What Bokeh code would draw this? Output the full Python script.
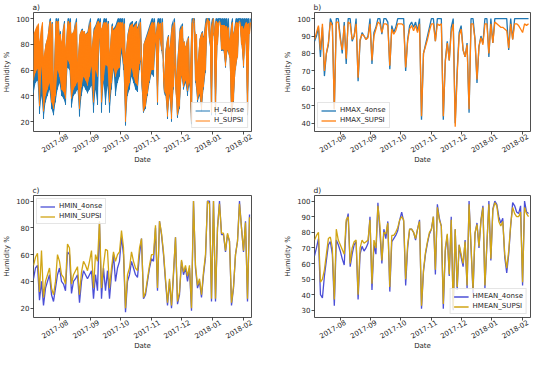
import numpy as np
import pandas as pd
from bokeh.plotting import figure
from bokeh.layouts import column, row
from bokeh.models import (Range1d, FixedTicker, Legend, LegendItem, DatetimeAxis)
from bokeh.embed import file_html
from bokeh.resources import INLINE

# ---------------- data (daily values, every second day from 2017-07-06) ----------------
dates = pd.date_range("2017-07-06", periods=109, freq="2D")
month_ticks = ["2017-08-01", "2017-09-01", "2017-10-01", "2017-11-01",
               "2017-12-01", "2018-01-01", "2018-02-01"]
month_labels = ["2017-08", "2017-09", "2017-10", "2017-11",
                "2017-12", "2018-01", "2018-02"]

HMAX_4onse = [87, 90, 95, 78, 95, 67, 80, 85, 100, 97,
              48, 100, 100, 90, 80, 98, 74, 100, 100, 87,
              90, 100, 64, 87, 92, 90, 88, 90, 100, 74,
              92, 95, 100, 100, 91, 100, 100, 98, 71, 96,
              92, 95, 100, 100, 100, 100, 70, 88, 96, 98,
              95, 98, 93, 100, 42, 80, 85, 90, 95, 100,
              100, 87, 100, 100, 100, 42, 76, 87, 76, 95,
              100, 40, 70, 92, 96, 82, 78, 86, 46, 100,
              100, 88, 63, 84, 90, 86, 100, 100, 78, 100,
              86, 100, 100, 100, 100, 100, 100, 100, 82, 100,
              88, 100, 100, 100, 100, 100, 100, 100, 100]
HMAX_SUPSI = [88, 92, 96, 82, 97, 70, 80, 86, 98, 96,
              48, 98, 98, 88, 82, 96, 77, 98, 97, 88,
              90, 97, 66, 88, 91, 90, 88, 89, 97, 76,
              90, 94, 98, 97, 92, 97, 97, 96, 73, 94,
              91, 93, 97, 97, 97, 96, 72, 87, 94, 96,
              93, 96, 92, 97, 44, 80, 84, 88, 93, 97,
              97, 87, 97, 96, 97, 44, 75, 86, 76, 92,
              97, 38, 68, 90, 94, 82, 78, 85, 48, 97,
              97, 88, 65, 84, 89, 85, 97, 97, 80, 97,
              86, 98, 97, 96, 95, 95, 94, 93, 83, 97,
              88, 97, 97, 96, 94, 92, 97, 96, 97]
HMIN_4onse = [42, 50, 52, 26, 40, 22, 35, 40, 45, 30,
              25, 35, 45, 50, 40, 38, 33, 62, 60, 31,
              40, 42, 45, 24, 40, 48, 45, 42, 45, 48,
              27, 45, 33, 84, 27, 50, 33, 48, 27, 45,
              60, 40, 50, 55, 73, 60, 17, 40, 45, 55,
              50, 45, 43, 60, 72, 27, 30, 40, 50, 57,
              55, 80, 33, 85, 75, 60, 40, 22, 40, 20,
              45, 73, 23, 30, 55, 45, 50, 40, 50, 18,
              100, 50, 35, 40, 28, 45, 58, 100, 100, 25,
              100, 25, 80, 100, 75, 75, 62, 75, 70, 22,
              35, 60, 70, 100, 80, 62, 85, 25, 90]
HMIN_SUPSI = [52, 58, 61, 32, 63, 28, 40, 45, 50, 35,
              30, 40, 60, 55, 45, 43, 38, 68, 65, 38,
              45, 48, 51, 30, 47, 55, 52, 48, 55, 63,
              35, 60, 55, 85, 35, 52, 64, 63, 35, 50,
              62, 55, 60, 62, 78, 65, 20, 45, 50, 62,
              55, 50, 48, 65, 72, 28, 32, 42, 52, 60,
              60, 82, 35, 85, 76, 62, 42, 24, 42, 22,
              47, 73, 25, 32, 56, 47, 52, 44, 52, 20,
              100, 52, 37, 42, 30, 47, 60, 100, 98, 27,
              100, 27, 80, 98, 76, 76, 63, 76, 70, 24,
              36, 60, 70, 98, 80, 63, 84, 27, 88]
HMEAN_4onse = [65, 70, 76, 40, 38, 52, 62, 72, 74, 66,
               33, 75, 72, 68, 63, 59, 86, 92, 58, 66,
               72, 74, 37, 66, 71, 68, 70, 73, 90, 43,
               72, 66, 99, 80, 60, 82, 76, 87, 42, 74,
               76, 78, 81, 88, 93, 87, 46, 70, 82, 82,
               80, 75, 82, 88, 31, 55, 66, 73, 79, 82,
               90, 53, 98, 89, 84, 31, 68, 78, 52, 90,
               30, 82, 43, 72, 64, 58, 75, 44, 100, 70,
               41, 79, 86, 70, 88, 97, 44, 72, 100, 62,
               95, 100, 98, 90, 86, 89, 64, 54, 66, 84,
               99, 97, 93, 92, 97, 46, 100, 93, 92]
HMEAN_SUPSI = [75, 78, 80, 48, 50, 56, 66, 76, 77, 70,
               37, 82, 75, 72, 69, 66, 88, 90, 60, 70,
               74, 75, 40, 70, 75, 73, 74, 75, 88, 47,
               75, 70, 97, 85, 62, 80, 79, 86, 45, 78,
               78, 80, 83, 88, 90, 88, 50, 72, 82, 82,
               80, 76, 82, 87, 33, 56, 67, 74, 80, 82,
               90, 56, 96, 88, 84, 34, 70, 79, 53, 88,
               31, 82, 45, 72, 66, 60, 74, 46, 98, 71,
               43, 80, 85, 71, 87, 96, 46, 73, 98, 63,
               94, 99, 97, 87, 84, 87, 66, 57, 68, 85,
               96, 92, 90, 90, 93, 48, 96, 92, 90]

for arr in (HMAX_4onse, HMAX_SUPSI, HMIN_4onse, HMIN_SUPSI, HMEAN_4onse, HMEAN_SUPSI):
    assert len(arr) == len(dates)

# hourly series a): alternates between the daily minimum and daily maximum
one_day = np.timedelta64(1, "D")
d64 = dates.values
h_x = np.empty(2 * len(d64), dtype="datetime64[ns]")
h_x[0::2] = d64
h_x[1::2] = d64 + one_day
H_4onse = np.empty(2 * len(d64)); H_4onse[0::2] = HMIN_4onse; H_4onse[1::2] = HMAX_4onse
H_SUPSI = np.empty(2 * len(d64)); H_SUPSI[0::2] = HMIN_SUPSI; H_SUPSI[1::2] = HMAX_SUPSI

# ---------------- styling ----------------
FONT = "DejaVu Sans"
TXT = "#262626"
FS = "7px"
BLUE, ORANGE = "#1f77b4", "#ff7f0e"
BLUE2, GOLD = "#4b4fd6", "#d1a514"
X0 = pd.Timestamp("2017-07-06")
X1 = pd.Timestamp("2018-02-09")
tick_ms = [pd.Timestamp(t).value // 10**6 for t in month_ticks]


def style_axis(ax):
    ax.axis_line_color = None
    ax.minor_tick_line_color = None
    ax.major_tick_line_color = "#222222"
    ax.major_tick_line_width = 0.8
    ax.major_tick_out = 3
    ax.major_tick_in = 0
    ax.major_label_text_font = FONT
    ax.major_label_text_font_size = FS
    ax.major_label_text_color = TXT
    ax.major_label_standoff = 1
    ax.axis_label_text_font = FONT
    ax.axis_label_text_font_size = FS
    ax.axis_label_text_font_style = "normal"
    ax.axis_label_text_color = TXT
    ax.axis_label_standoff = 2


def make_fig(title, width, height, ylim, yticks, left, right, top, bottom, shift_hours):
    p = figure(width=width, height=height, x_axis_type="datetime",
               output_backend="svg", toolbar_location=None,
               x_range=Range1d(X0, X1), y_range=Range1d(*ylim),
               min_border_left=left, min_border_right=right,
               min_border_top=top, min_border_bottom=bottom)
    p.title.text = title
    p.title.align = "left"
    p.title.text_font = FONT
    p.title.text_font_size = "7.5px"
    p.title.text_font_style = "normal"
    p.title.text_color = TXT
    p.title.standoff = 1
    p.title.offset = -1
    p.outline_line_color = "#222222"
    p.outline_line_width = 0.8
    p.xgrid.visible = False
    p.ygrid.visible = False
    # x axis: tick marks only
    xa = p.xaxis[0]
    style_axis(xa)
    xa.ticker = FixedTicker(ticks=tick_ms)
    xa.major_label_overrides = {t: "" for t in tick_ms}
    xa.major_label_text_font_size = "0px"
    xa.major_label_standoff = 0
    # second axis with the rotated month labels and the axis title
    shift = pd.Timedelta(hours=shift_hours)
    p.extra_x_ranges = {"labels": Range1d(X0 - shift, X1 - shift)}
    la = DatetimeAxis(x_range_name="labels")
    style_axis(la)
    la.ticker = FixedTicker(ticks=tick_ms)
    la.major_label_overrides = dict(zip(tick_ms, month_labels))
    la.major_tick_line_color = None
    la.major_tick_out = 0
    la.major_label_standoff = 1
    la.major_label_orientation = np.pi / 6
    la.axis_label = "Date"
    la.axis_label_standoff = -2
    p.add_layout(la, "below")
    ya = p.yaxis[0]
    style_axis(ya)
    ya.ticker = FixedTicker(ticks=yticks)
    ya.axis_label = "Humidity %"
    return p


def add_legend(p, items, location):
    lg = Legend(items=items, location=location)
    lg.label_text_font = FONT
    lg.label_text_font_size = FS
    lg.label_text_color = TXT
    lg.label_height = 7
    lg.glyph_height = 7
    lg.glyph_width = 15
    lg.label_standoff = 4
    lg.spacing = 2
    lg.padding = 3
    lg.margin = 3
    lg.border_line_color = "#cccccc"
    lg.border_line_width = 0.8
    lg.background_fill_alpha = 0.8
    p.add_layout(lg)


# a) hourly humidity
fa = make_fig("a)", 270, 175, (12.3, 104.7), [20, 40, 60, 80, 100], 25, 19, 7, 44, 189)
fa.varea(x=dates, y1=HMIN_4onse, y2=HMAX_4onse, fill_color=BLUE)
la1 = fa.line(h_x, H_4onse, line_color=BLUE, line_width=1.0)
fa.varea(x=dates, y1=HMIN_SUPSI, y2=HMAX_SUPSI, fill_color=ORANGE)
la2 = fa.line(h_x, H_SUPSI, line_color=ORANGE, line_width=1.0)
add_legend(fa, [LegendItem(label="H_4onse", renderers=[la1]),
                LegendItem(label="H_SUPSI", renderers=[la2])], "bottom_right")

# b) daily maximum
fb = make_fig("b)", 264, 175, (35.2, 103.5), [40, 50, 60, 70, 80, 90, 100], 44, 4, 7, 44, 120)
lb1 = fb.line(dates, HMAX_4onse, line_color=BLUE, line_width=1.3)
lb2 = fb.line(dates, HMAX_SUPSI, line_color=ORANGE, line_width=1.3)
add_legend(fb, [LegendItem(label="HMAX_4onse", renderers=[lb1]),
                LegendItem(label="HMAX_SUPSI", renderers=[lb2])], "bottom_left")

# c) daily minimum
fc = make_fig("c)", 270, 186, (13.0, 104.2), [20, 40, 60, 80, 100], 25, 19, 20, 44, 189)
lc1 = fc.line(dates, HMIN_4onse, line_color=BLUE2, line_width=1.3)
lc2 = fc.line(dates, HMIN_SUPSI, line_color=GOLD, line_width=1.3)
add_legend(fc, [LegendItem(label="HMIN_4onse", renderers=[lc1]),
                LegendItem(label="HMIN_SUPSI", renderers=[lc2])], "top_left")

# d) daily mean
fd = make_fig("d)", 264, 186, (25.4, 103.6), [30, 40, 50, 60, 70, 80, 90, 100], 44, 4, 20, 44, 120)
ld1 = fd.line(dates, HMEAN_4onse, line_color=BLUE2, line_width=1.3)
ld2 = fd.line(dates, HMEAN_SUPSI, line_color=GOLD, line_width=1.3)
add_legend(fd, [LegendItem(label="HMEAN_4onse", renderers=[ld1]),
                LegendItem(label="HMEAN_SUPSI", renderers=[ld2])], "bottom_right")

layout = column(row(fa, fb), row(fc, fd))
open("out.html", "w").write(file_html(layout, INLINE))
